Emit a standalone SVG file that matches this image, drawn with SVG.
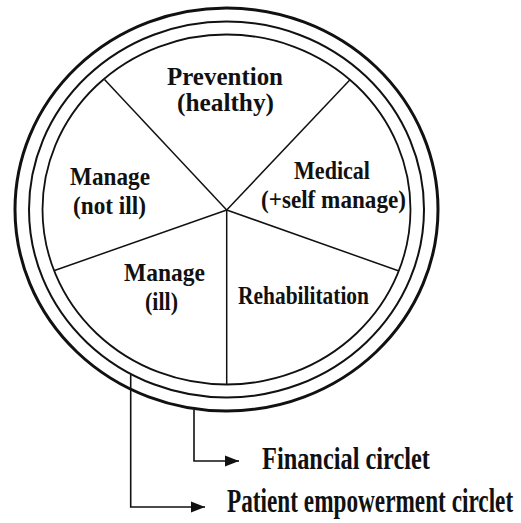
<svg xmlns="http://www.w3.org/2000/svg" width="521" height="523" viewBox="0 0 521 523">
<style>
.lbl{font-family:"Liberation Serif","Times New Roman",serif;font-weight:bold;font-size:25px;fill:#111}
.big{font-family:"Liberation Serif","Times New Roman",serif;font-weight:bold;fill:#111}
.ring{fill:none;stroke:#111}
.spoke{stroke:#111;stroke-width:1.5;fill:none}
.conn{stroke:#111;stroke-width:1.6;fill:none}
</style>
<defs>
<marker id="arr" markerUnits="userSpaceOnUse" markerWidth="15" markerHeight="12" refX="14" refY="6" orient="auto">
<path d="M0,0.5 L14,6 L0,11.5 Z" fill="#111"/>
</marker>
</defs>
<rect width="521" height="523" fill="#fff"/>
<g id="rings">
<ellipse class="ring" cx="226.5" cy="209.5" rx="211.5" ry="201.5" stroke-width="3"/>
<ellipse class="ring" cx="226.5" cy="209.5" rx="197.5" ry="188" stroke-width="2"/>
<ellipse class="ring" cx="226.5" cy="209.5" rx="184" ry="175" stroke-width="1.8"/>
</g>
<g id="spokes">
<line class="spoke" x1="226.7" y1="210" x2="104.5" y2="79.5"/>
<line class="spoke" x1="226.7" y1="210" x2="350" y2="79.8"/>
<line class="spoke" x1="226.7" y1="210" x2="399" y2="271"/>
<line class="spoke" x1="226.7" y1="210" x2="226.7" y2="384.5"/>
<line class="spoke" x1="226.7" y1="210" x2="54.5" y2="270.5"/>
</g>
<g id="prevention"><text class="lbl" x="167" y="85" textLength="116" lengthAdjust="spacingAndGlyphs">Prevention</text><text class="lbl" x="177" y="111" textLength="97" lengthAdjust="spacingAndGlyphs">(healthy)</text></g>
<g id="manage-not-ill"><text class="lbl" x="70" y="185" textLength="80" lengthAdjust="spacingAndGlyphs">Manage</text><text class="lbl" x="73" y="214" textLength="73" lengthAdjust="spacingAndGlyphs">(not ill)</text></g>
<g id="medical"><text class="lbl" x="294" y="179" textLength="76" lengthAdjust="spacingAndGlyphs">Medical</text><text class="lbl" x="261" y="208" textLength="145" lengthAdjust="spacingAndGlyphs">(+self manage)</text></g>
<g id="manage-ill"><text class="lbl" x="124" y="281" textLength="81" lengthAdjust="spacingAndGlyphs">Manage</text><text class="lbl" x="145" y="310" textLength="33" lengthAdjust="spacingAndGlyphs">(ill)</text></g>
<g id="rehabilitation"><text class="lbl" x="238" y="304" textLength="131" lengthAdjust="spacingAndGlyphs">Rehabilitation</text></g>
<g id="connectors">
<path class="conn" d="M194,410 V461 H239" marker-end="url(#arr)"/>
<path class="conn" d="M130.7,375 V507 H205" marker-end="url(#arr)"/>
</g>
<g id="financial"><text class="big" transform="translate(262,469) scale(0.76,1)" x="0" y="0" font-size="32" textLength="221" lengthAdjust="spacingAndGlyphs">Financial circlet</text></g>
<g id="patient"><text class="big" transform="translate(227,512) scale(0.683,1)" x="0" y="0" font-size="34" textLength="419" lengthAdjust="spacingAndGlyphs">Patient empowerment circlet</text></g>
</svg>
